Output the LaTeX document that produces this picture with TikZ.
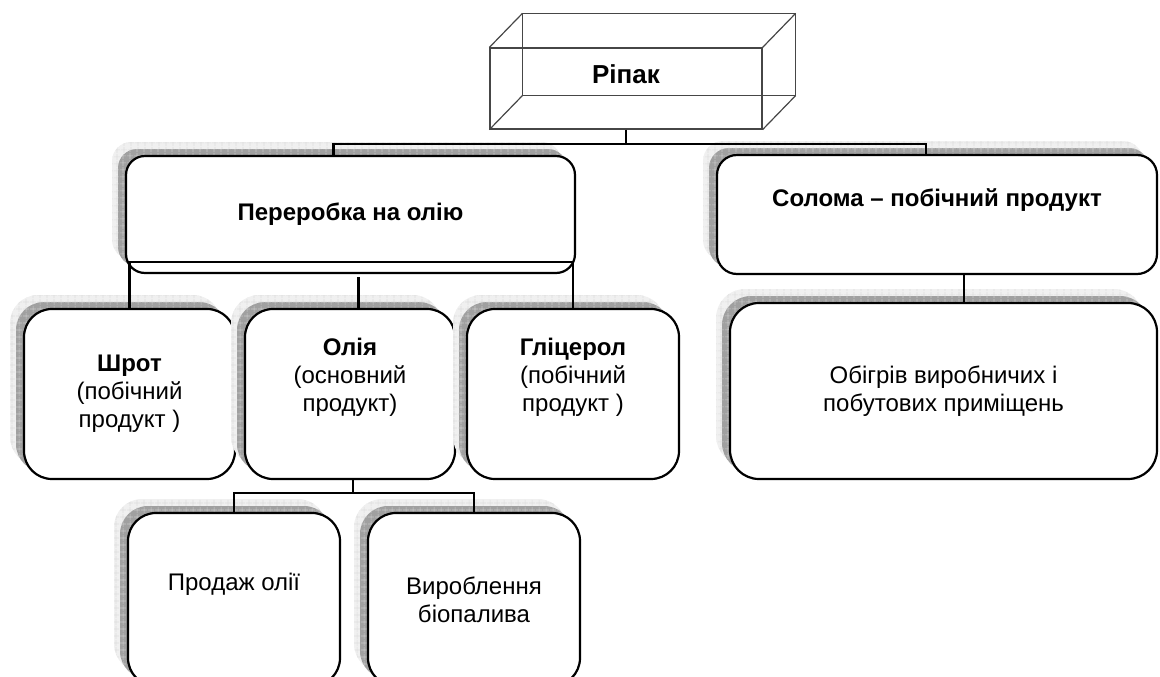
\documentclass[tikz,border=0pt]{standalone}
\usepackage{fontspec}
\setmainfont{Liberation Sans}
\usepackage{tikz}
\usetikzlibrary{positioning,shadows,patterns.meta}
\definecolor{shadedark}{RGB}{160,160,160}
\definecolor{shadegrid}{RGB}{200,200,200}
\definecolor{shadelight}{RGB}{240,240,240}
\definecolor{halogrid}{RGB}{222,222,222}
\definecolor{cubeline}{RGB}{70,70,70}
\tikzstyle{prodbox} = [rectangle, draw=black, line width=2.2pt, fill=white, inner sep=0pt, outer sep=0pt, align=center, text centered,
  general shadow={shadow xshift=-14pt, shadow yshift=14pt, fill=shadelight},
  general shadow={shadow xshift=-14pt, shadow yshift=14pt, pattern={Hatch[angle=0, distance=6.5pt, line width=0.6pt]}, pattern color=halogrid},
  general shadow={shadow xshift=-8pt, shadow yshift=7pt, fill=shadedark},
  general shadow={shadow xshift=-8pt, shadow yshift=7pt, pattern={Hatch[angle=0, distance=6.5pt, line width=0.6pt]}, pattern color=shadegrid}]
\tikzstyle{link} = [line width=2.2pt, black]
\tikzstyle{cube} = [line width=1.2pt, draw=cubeline]

\begin{document}
\begin{tikzpicture}[x=1pt, y=-1pt, font=\fontsize{24}{28}\selectfont]
\useasboundingbox (0,0) rectangle (1160,677);
\clip (0,0) rectangle (1160,677);

% rape: wire cube on top
\node (cubefront) [rectangle, cube, minimum width=272pt, minimum height=81pt, inner sep=0pt] at (626,88.5) {};
\draw[cube] ([shift={(33,-34)}]cubefront.south west) rectangle ([shift={(33,-34)}]cubefront.north east);
\foreach \c in {north west, north east, south west, south east}
  \draw[cube] (cubefront.\c) -- ++(33,-34);
\node (ripak) [font=\fontsize{26}{30}\selectfont] at (626,74) {\textbf{Ріпак}};

% second level
\node (proc) [prodbox, rounded corners=19pt, minimum width=449pt, minimum height=117pt] at (350.5,214.5) {\textbf{Переробка на олію}};
\node (straw) [prodbox, rounded corners=20pt, minimum width=440pt, minimum height=119pt] at (937,214.5) {\textbf{Солома – побічний продукт}\\[6pt]\mbox{}};

% products of the oil
\node (shrot) [prodbox, rounded corners=28pt, minimum width=211pt, minimum height=170pt, anchor=north west] at (24,309) {\textbf{Шрот}\\(побічний\\продукт )};
\node (olia) [prodbox, rounded corners=28pt, minimum width=210pt, minimum height=170pt, right=10pt of shrot] {\textbf{Олія}\\(основний\\продукт)\\[10pt]\mbox{}};
\node (glic) [prodbox, rounded corners=28pt, minimum width=212pt, minimum height=170pt, right=12pt of olia] {\textbf{Гліцерол}\\(побічний\\продукт )\\[10pt]\mbox{}};
\node (sale) [prodbox, rounded corners=28pt, minimum width=212pt, minimum height=173pt, anchor=north west] at (128,513) {Продаж олії\\[8pt]\mbox{}};
\node (bio) [prodbox, rounded corners=28pt, minimum width=212pt, minimum height=173pt, right=28pt of sale] {Вироблення\\біопалива};

% use of the straw
\node (heat) [prodbox, rounded corners=29pt, minimum width=427pt, minimum height=176pt, anchor=north west] at (730,303) {Обігрів виробничих і\\побутових приміщень};

% connectors
\coordinate (topjoin) at ([yshift=-14pt]cubefront.south);
\draw[link] (cubefront.south) -- (topjoin);
\draw[link] ([xshift=-17pt]proc.north) |- (topjoin) -| ([xshift=-11pt]straw.north);
\draw[link] (shrot.north) |- ([yshift=11pt]proc.south) -| (glic.north);
\draw[link] ([xshift=8pt,yshift=-4pt]proc.south) -- ([xshift=8pt]proc.south |- olia.north);
\coordinate (oliajoin) at ([xshift=3pt,yshift=-14pt]olia.south);
\draw[link] ([xshift=3pt]olia.south) -- (oliajoin);
\draw[link] (sale.north) |- (oliajoin) -| (bio.north);
\draw[link] ([xshift=27pt]straw.south) -- ([xshift=27pt]straw.south |- heat.north);
\end{tikzpicture}
\end{document}
